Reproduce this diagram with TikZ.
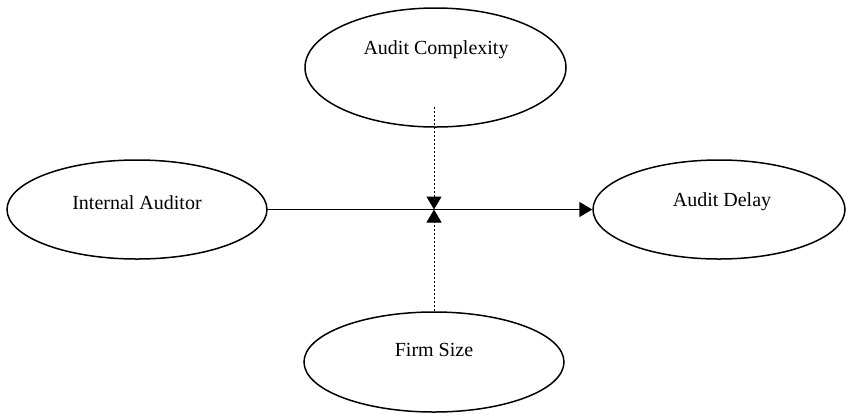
\documentclass[tikz,border=0pt]{standalone}
\usepackage{fontspec}
\setmainfont{Liberation Serif}
\usepackage{tikz}
\usetikzlibrary{arrows.meta, shapes.geometric}

\tikzset{
  var/.style={draw, ellipse, line width=0.75pt, inner sep=0pt},
  lbl/.style={font=\fontsize{10}{12}\selectfont, inner sep=0pt},
  direct/.style={line width=0.75pt, -{Triangle[length=6.5pt, width=7.5pt]}},
  moder/.style={line width=0.5pt, dash pattern=on 1pt off 1pt,
                -{Triangle[length=6.5pt, width=7.5pt]}}
}

\begin{document}
\begin{tikzpicture}[x=0.5pt, y=-0.5pt]
  \useasboundingbox (0,0) rectangle (846,414);

  \node[var, minimum width=130.5pt, minimum height=59.5pt] (ac) at (435.5,67.5) {};
  \node[var, minimum width=130pt, minimum height=49.5pt] (ia) at (137,209.5) {};
  \node[var, minimum width=126pt, minimum height=49.5pt] (ad) at (719,209.5) {};
  \node[var, minimum width=130pt, minimum height=50pt] (fs) at (434,362) {};

  \node[lbl] (acT) at (436,50) {Audit Complexity};
  \node[lbl] (iaT) at (137,203) {Internal Auditor};
  \node[lbl] (adT) at (722,202) {Audit Delay};
  \node[lbl] (fsT) at (434,350) {Firm Size};

  \coordinate (acin) at (434,107);
  \coordinate (mid) at (434,209.5);

  \draw[direct] (ia) -- (ad);
  \draw[moder] (acin) -- (mid);
  \draw[moder] (fs.north) -- (mid);
\end{tikzpicture}
\end{document}
